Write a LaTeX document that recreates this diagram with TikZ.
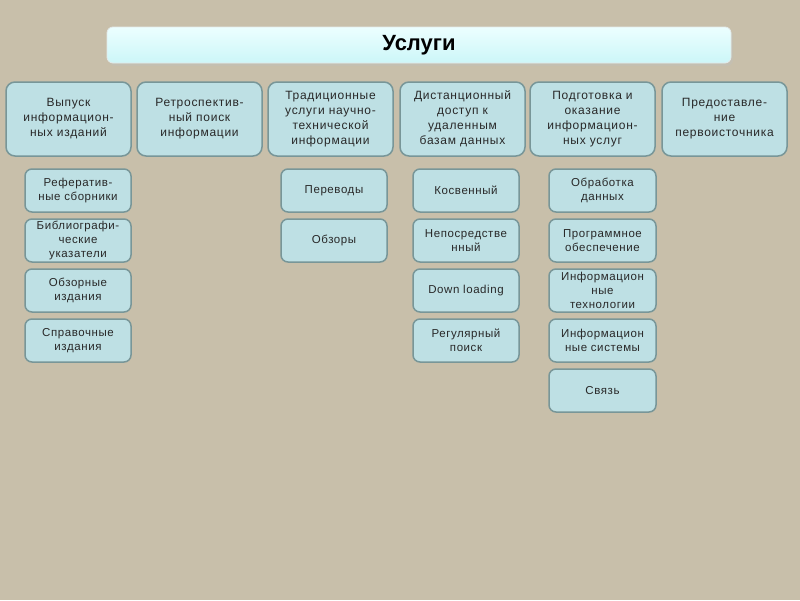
\documentclass[tikz,border=0pt]{standalone}
\usepackage{fontspec}
\setmainfont{Liberation Sans}
\definecolor{bgcol}{RGB}{200,191,170}
\definecolor{boxfill}{RGB}{190,224,228}
\definecolor{boxline}{RGB}{120,150,152}
\definecolor{txt}{RGB}{40,40,40}
\definecolor{titletop}{RGB}{236,255,255}
\definecolor{titlebot}{RGB}{204,246,248}
\tikzset{
  cat/.style={draw=boxline, line width=1.5pt, fill=boxfill, rounded corners=9pt,
    minimum width=125pt, minimum height=74pt, align=center, text=txt,
    font=\fontsize{12}{15}\selectfont\addfontfeature{LetterSpace=6}, inner sep=0pt},
  sub/.style={draw=boxline, line width=1.5pt, fill=boxfill, rounded corners=7pt,
    minimum width=106pt, minimum height=43pt, align=center, text=txt,
    font=\fontsize{11.5}{14}\selectfont\addfontfeature{LetterSpace=5}, inner sep=0pt},
  titlebox/.style={draw=white!80!boxline, line width=0.8pt, top color=titletop, bottom color=titlebot,
    rounded corners=6pt, minimum width=624pt, minimum height=36pt,
    font=\fontsize{22}{26}\selectfont\bfseries, text=black}
}
\begin{document}
\begin{tikzpicture}[x=1pt,y=-1pt]
\fill[bgcol] (0,0) rectangle (800,600);
\useasboundingbox (0,0) rectangle (800,600);
\fill[black!25, opacity=0.35, rounded corners=6pt] (109,30) rectangle (733,66);
\node[titlebox] (title) at (419,45) {Услуги};

\node[cat] (c1) at (68.5,119) {Выпуск\\информацион-\\ных изданий};
\node[cat] (c2) at (199.5,119) {Ретроспектив-\\ный поиск\\информации};
\node[cat] (c3) at (330.5,119) {Традиционные\\услуги научно-\\технической\\информации};
\node[cat] (c4) at (462.5,119) {Дистанционный\\доступ к\\удаленным\\базам данных};
\node[cat] (c5) at (592.5,119) {Подготовка и\\оказание\\информацион-\\ных услуг};
\node[cat] (c6) at (724.5,119) {Предоставле-\\ние\\первоисточника};

\node[sub] (a1) at (78,190.5) {Рефератив-\\ные сборники};
\node[sub] (a2) at (78,240.5) {Библиографи-\\ческие\\указатели};
\node[sub] (a3) at (78,290.5) {Обзорные\\издания};
\node[sub] (a4) at (78,340.5) {Справочные\\издания};

\node[sub] (t1) at (334,190.5) {Переводы};
\node[sub] (t2) at (334,240.5) {Обзоры};

\node[sub] (d1) at (466,190.5) {Косвенный};
\node[sub] (d2) at (466,240.5) {Непосредстве\\нный};
\node[sub] (d3) at (466,290.5) {Down loading};
\node[sub] (d4) at (466,340.5) {Регулярный\\поиск};

\node[sub, minimum width=107pt] (p1) at (602.5,190.5) {Обработка\\данных};
\node[sub, minimum width=107pt] (p2) at (602.5,240.5) {Программное\\обеспечение};
\node[sub, minimum width=107pt] (p3) at (602.5,290.5) {Информацион\\ные\\технологии};
\node[sub, minimum width=107pt] (p4) at (602.5,340.5) {Информацион\\ные системы};
\node[sub, minimum width=107pt] (p5) at (602.5,390.5) {Связь};
\end{tikzpicture}
\end{document}
